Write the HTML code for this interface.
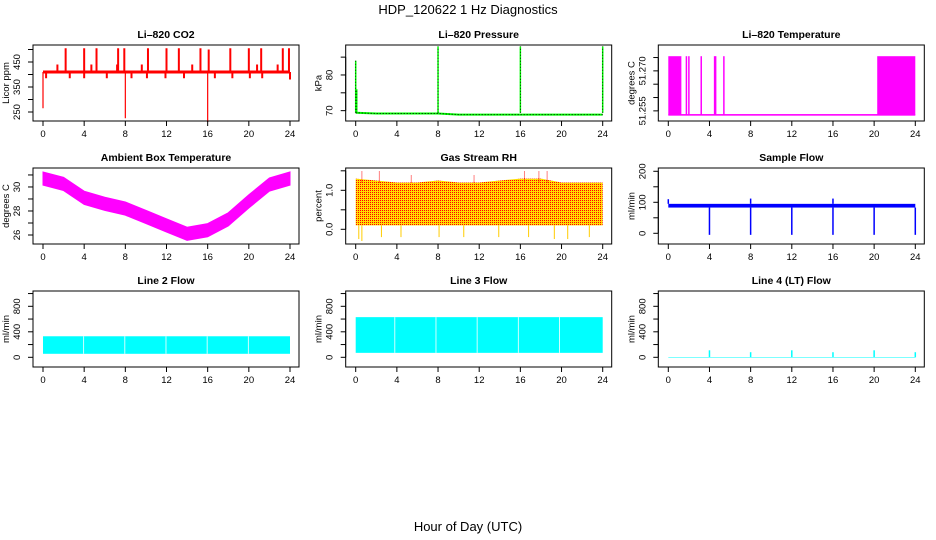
<!DOCTYPE html>
<html><head><meta charset="utf-8"><style>
html,body{margin:0;padding:0;background:#fff;}
svg{display:block;font-family:"Liberation Sans",sans-serif;}
</style></head><body>
<svg id="c" width="936" height="540" viewBox="0 0 936 540" xmlns="http://www.w3.org/2000/svg">
<defs>
<pattern id="rhpat" width="2" height="2" patternUnits="userSpaceOnUse">
<rect width="2" height="2" fill="#ffdd00"/><rect width="1" height="1" fill="#ff0000"/>
</pattern>
</defs>
<text x="468" y="14" font-size="13" text-anchor="middle">HDP_120622  1 Hz Diagnostics</text>
<text x="468" y="531" font-size="13" text-anchor="middle">Hour of Day (UTC)</text>
</svg>
<script>
// ---- data ----
const xTicks = [0,4,8,12,16,20,24];
const co2Base = 410;
const co2UpHours = [2.2,4.0,5.2,7.3,7.9,10.2,12.0,13.2,15.3,16.1,18.2,20.0,21.2,23.3,23.9];
const co2UpVals = [505,505,505,505,505,505,505,505,505,500,505,505,505,505,505];
const co2MidHours = [1.4,4.7,7.2,9.6,14.5,20.8,22.8];
const co2MidVals = [440,440,440,440,440,440,440];
const co2DipHours = [0.3,2.6,4.0,6.2,8.6,10.1,11.9,13.7,16.7,18.4,20.1,21.3,24.0];
const co2DipVals = [385,385,385,385,385,385,385,385,385,385,385,385,380];
const co2DownHours = [0,8,16];
const co2DownVals = [265,225,210];

const pBaseHours = [0,2,4,6,8,10,12,14,16,18,20,22,24];
const pBaseVals = [69.4,69.2,69.2,69.2,69.2,68.9,68.9,68.9,68.9,68.9,68.9,68.9,68.9];
const pSpikeHours = [0,0.1,8,16,24];
const pSpikeVals = [84,76,88,88,88];

const tLow = 51.2535, tHigh = 51.2755;
const tBlockStart = [0.0,20.3];
const tBlockEnd = [1.27,24.0];
const tLineHours = [1.76,2.0,3.2,4.5,4.6,5.4];

const ambHours = [0,2,4,6,8,10,12,14,16,18,20,22,24];
const ambVals = [30.7,30.25,29.1,28.6,28.2,27.5,26.8,26.1,26.4,27.3,28.8,30.2,30.7];
const ambHalf = 0.55;

const rhHours = [0,2,4,6,8,10,12,14,16,18,20,22,24];
const rhTop = [1.3,1.25,1.2,1.2,1.25,1.2,1.2,1.25,1.3,1.3,1.2,1.2,1.2];
const rhBottom = [0.1,0.1,0.1,0.1,0.1,0.1,0.1,0.1,0.1,0.1,0.1,0.1,0.1];
const rhSpikeHours = [0.6,2.3,5.4,11.5,16.4,17.8,18.6];
const rhSpikeVals = [1.5,1.5,1.4,1.4,1.5,1.5,1.5];
const rhDipHours = [0.3,0.6,2.5,4.4,8.1,10.5,13.9,16.8,19.3,20.6,22.7];
const rhDipVals = [-0.25,-0.3,-0.2,-0.2,-0.2,-0.2,-0.2,-0.2,-0.25,-0.25,-0.2];

const sfLo = 83, sfHi = 95;
const sfDropHours = [4,8,12,16,20,24];
const sfDropVals = [-5,-5,-5,-5,-5,-5];
const sfSpikeHours = [0,8,16];
const sfSpikeVals = [110,112,112];

const l2Top = 330, l2Bottom = 55;
const l2GapHours = [3.95,7.95,11.95,15.95,19.95];
const l3Top = 630, l3Bottom = 70;
const l3GapHours = [3.8,7.8,11.8,15.8,19.8];
const l4Base = 0;
const l4SpikeHours = [4,8,12,16,20,24];
const l4SpikeVals = [110,80,110,80,110,80];

// ---- layout ----
const svg = document.getElementById('c');
const NS = 'http://www.w3.org/2000/svg';
function mk(tag, attrs, parent){
  const e = document.createElementNS(NS, tag);
  for (const k in attrs) e.setAttribute(k, attrs[k]);
  (parent||svg).appendChild(e);
  return e;
}
const colX = [33, 345.7, 658.3];
const rowY = [45, 168, 291];
const BW = 266, BH = 76;

function panel(col,row,title,ylab,ymin,ymax,yticks,ylabels,name){
  const L = colX[col], T = rowY[row];
  const g = mk('g',{});
  
  
  const X = h => L + 10 + h*(257-10)/24;
  const Y = v => T + BH - (v - ymin)/(ymax - ymin)*BH;
  const plot = mk('g',{},g);
  
  
  const fr = mk('rect',{x:L,y:T,width:BW,height:BH,fill:'none',stroke:'#000','stroke-width':1},g);
  
  
  const t = mk('text',{x:L+BW/2,y:T-7,'font-size':10.5,'font-weight':'bold','text-anchor':'middle'},g);
  t.textContent = title;
  
  
  const xa = mk('g',{},g);
  
  
  mk('line',{x1:X(0),x2:X(24),y1:T+BH,y2:T+BH,stroke:'#000'},xa);
  xTicks.forEach(v=>{
    mk('line',{x1:X(v),x2:X(v),y1:T+BH,y2:T+BH+5,stroke:'#000'},xa);
    const tx = mk('text',{x:X(v),y:T+BH+16,'font-size':9.5,'text-anchor':'middle'},xa);
    tx.textContent = v;
    
    
  });
  const ya = mk('g',{},g);
  
  
  mk('line',{x1:L,x2:L,y1:Y(yticks[0]),y2:Y(yticks[yticks.length-1]),stroke:'#000'},ya);
  yticks.forEach(v=>mk('line',{x1:L-5,x2:L,y1:Y(v),y2:Y(v),stroke:'#000'},ya));
  ylabels.forEach(v=>{
    const yy = Y(+v);
    const tx = mk('text',{x:L-13,y:yy,'font-size':9.5,'text-anchor':'middle',transform:`rotate(-90 ${L-13} ${yy})`},ya);
    tx.textContent = v;
    
    
  });
  const yl = mk('text',{x:L-24,y:T+BH/2,'font-size':9.5,'text-anchor':'middle',transform:`rotate(-90 ${L-24} ${T+BH/2})`},ya);
  yl.textContent = ylab;
  
  
  return {X,Y,g:plot};
}
function vline(p,h,v1,v2,color,w,name){
  const e = mk('line',{x1:p.X(h),x2:p.X(h),y1:p.Y(v1),y2:p.Y(v2),stroke:color,'stroke-width':w||1.5},p.g);
  
  
  return e;
}
function band(p,x0,x1,v0,v1,fill,name){
  const e = mk('rect',{x:p.X(x0),y:p.Y(v1),width:p.X(x1)-p.X(x0),height:p.Y(v0)-p.Y(v1),fill:fill},p.g);
  
  
  return e;
}

// CO2
let p = panel(0,0,'Li\u2013820 CO2','Licor ppm',214,518,[250,300,350,400,450,500],['250','350','450'],'co2');
band(p,0,24,co2Base-6,co2Base+6,'#ff0000','co2-baseline');
co2UpHours.forEach((h,i)=>vline(p,h,co2Base,co2UpVals[i],'#ff0000',2,'co2-spike'));
co2MidHours.forEach((h,i)=>vline(p,h,co2Base,co2MidVals[i],'#ff0000',2,'co2-bump'));
co2DipHours.forEach((h,i)=>vline(p,h,co2Base,co2DipVals[i],'#ff0000',2,'co2-dip'));
co2DownHours.forEach((h,i)=>vline(p,h,co2Base,co2DownVals[i],'#ff0000',1.2,'co2-drop'));

// Pressure
p = panel(1,0,'Li\u2013820 Pressure','kPa',67.1,88.4,[70,75,80,85],['70','80'],'pressure');
const pPts = pBaseHours.map((h,i)=>p.X(h)+','+p.Y(pBaseVals[i])).join(' ');
let e = mk('polyline',{points:pPts,fill:'none',stroke:'#00ff00','stroke-width':2},p.g);


e = mk('polyline',{points:pPts,fill:'none',stroke:'#000','stroke-width':1,'stroke-dasharray':'1 2'},p.g);


pSpikeHours.forEach((h,i)=>{
  vline(p,h,pBaseVals[0],pSpikeVals[i],'#00ff00',1.5,'pressure-spike');
  vline(p,h,pBaseVals[0],pSpikeVals[i],'#000',0.8,'pressure-spike-dotted').setAttribute('stroke-dasharray','1 2');
});

// Temperature
p = panel(2,0,'Li\u2013820 Temperature','degrees C',51.2512,51.2797,[51.255,51.26,51.265,51.27,51.275],['51.255','51.270'],'li820-temp');
band(p,0,24,tLow-0.0003,tLow+0.0003,'#ff00ff','temp-baseline');
tBlockStart.forEach((s,i)=>band(p,s,tBlockEnd[i],tLow,tHigh,'#ff00ff','temp-dense-block'));
tLineHours.forEach(h=>vline(p,h,tLow,tHigh,'#ff00ff',1.5,'temp-switch'));

// Ambient
p = panel(0,1,'Ambient Box Temperature','degrees C',25.25,31.58,[26,27,28,29,30,31],['26','28','30'],'ambient');
const ambUp = ambHours.map((h,i)=>p.X(h)+','+p.Y(ambVals[i]+ambHalf));
const ambDn = ambHours.map((h,i)=>p.X(h)+','+p.Y(ambVals[i]-ambHalf)).reverse();
e = mk('polygon',{points:ambUp.concat(ambDn).join(' '),fill:'#ff00ff',stroke:'#ff00ff','stroke-width':1},p.g);



// RH
p = panel(1,1,'Gas Stream RH','percent',-0.377,1.572,[0,0.5,1,1.5],['0.0','1.0'],'rh');
const rhUp = rhHours.map((h,i)=>p.X(h)+','+p.Y(rhTop[i]));
const rhDn = rhHours.map((h,i)=>p.X(h)+','+p.Y(rhBottom[i])).reverse();
e = mk('polygon',{points:rhUp.concat(rhDn).join(' '),fill:'url(#rhpat)'},p.g);


rhSpikeHours.forEach((h,i)=>vline(p,h,1.2,rhSpikeVals[i],'#ff0000',1,'rh-spike').setAttribute('stroke-dasharray','1 1'));
rhDipHours.forEach((h,i)=>vline(p,h,0.1,rhDipVals[i],'#ffcc00',1,'rh-dip'));

// Sample flow
p = panel(2,1,'Sample Flow','ml/min',-34.5,210.6,[0,50,100,150,200],['0','100','200'],'sample-flow');
band(p,0,24,sfLo,sfHi,'#0000ff','sample-flow-band');
sfDropHours.forEach((h,i)=>vline(p,h,sfLo,sfDropVals[i],'#0000ff',1.5,'sample-flow-drop'));
sfSpikeHours.forEach((h,i)=>vline(p,h,sfHi,sfSpikeVals[i],'#0000ff',1.5,'sample-flow-spike'));

// Line 2
p = panel(0,2,'Line 2 Flow','ml/min',-152,1040,[0,200,400,600,800,1000],['0','400','800'],'line2-flow');
band(p,0,24,l2Bottom,l2Top,'#00ffff','line2-band');
l2GapHours.forEach(h=>vline(p,h,l2Bottom,l2Top,'#fff',0.8,'line2-gap'));
// Line 3
p = panel(1,2,'Line 3 Flow','ml/min',-152,1040,[0,200,400,600,800,1000],['0','400','800'],'line3-flow');
band(p,0,24,l3Bottom,l3Top,'#00ffff','line3-band');
l3GapHours.forEach(h=>vline(p,h,l3Bottom,l3Top,'#fff',0.8,'line3-gap'));
// Line 4
p = panel(2,2,'Line 4 (LT) Flow','ml/min',-152,1040,[0,200,400,600,800,1000],['0','400','800'],'line4-flow');
band(p,0,24,l4Base-4,l4Base+4,'#00ffff','line4-baseline');
l4SpikeHours.forEach((h,i)=>vline(p,h,l4Base,l4SpikeVals[i],'#00ffff',1.5,'line4-spike'));
</script>
</body></html>
